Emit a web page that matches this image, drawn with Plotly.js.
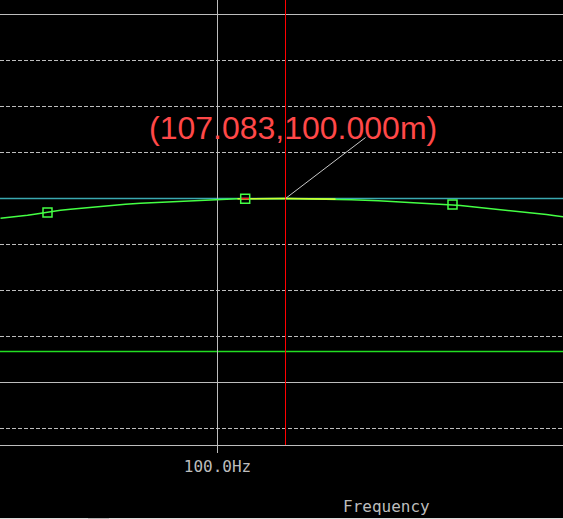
<!DOCTYPE html>
<html>
<head>
<meta charset="utf-8">
<script src="https://cdn.plot.ly/plotly-3.0.1.min.js"></script>
<style>html,body{margin:0;padding:0;background:#000000;}#chart{width:563px;height:519px;}</style>
</head>
<body>
<div id="chart"></div>
<script>
// Measured trace (frequency in Hz, magnitude in mV)
const freqHz = [77.397, 78.543, 79.376, 80.209, 80.938, 81.563, 82.293, 82.918, 83.647, 84.688, 85.730, 86.772, 87.917, 89.063, 90.417, 91.980, 93.542, 95.313, 97.396, 100.312, 102.083, 107.083, 112.291, 113.958, 116.770, 118.957, 120.832, 122.499, 123.645, 124.478, 125.311, 126.353, 127.499, 128.540, 129.686, 130.623, 131.561, 132.498, 133.332, 134.269, 134.998, 135.727, 136.040];
const magmV = [95.717, 95.935, 96.152, 96.370, 96.587, 96.804, 96.913, 97.196, 97.457, 97.674, 97.891, 98.109, 98.326, 98.543, 98.761, 98.978, 99.130, 99.348, 99.500, 99.717, 99.935, 100.000, 99.870, 99.717, 99.500, 99.283, 99.065, 98.848, 98.696, 98.609, 98.478, 98.261, 98.043, 97.826, 97.609, 97.391, 97.174, 96.957, 96.739, 96.522, 96.304, 96.087, 96.022];

// Highlighted band of the trace
const bandLo = 102.083;
const bandHi = 112.291;

// Markers
const markerFreq = [82.293, 102.885, 124.478];
const markerMag = [96.957, 99.95, 98.696];
const activeSegFreq = [102.396, 103.333];
const activeSegMag = [100.0, 100.0];

// Cursor readout
const cursorFreq = 107.083;
const cursorMag = 100.000;

// Grid / reference levels (mV)
const gridDashed = [130, 120, 110, 90, 80, 70, 50];
const gridSolid = [140, 60];
const refLevel = 100;
const limitLevel = 66.739;

// Axis ticks
const xTickVals = [100];
const xTickText = ['100.0Hz'];
const xRange = [77.345, 135.988];
const yRange = [46.413, 143.152];

const grey = '#bdbdbd';

const bandF = [], bandM = [];
freqHz.forEach((f, i) => { if (f >= bandLo && f <= bandHi) { bandF.push(f); bandM.push(magmV[i]); } });

const traces = [
  {x: freqHz, y: magmV, type: 'scatter', mode: 'lines', line: {color: '#44ff44', width: 1.5}, hoverinfo: 'none'},
  {x: bandF, y: bandM, type: 'scatter', mode: 'lines', line: {color: '#ccff33', width: 1.6}, hoverinfo: 'none'},
  {x: activeSegFreq, y: activeSegMag, type: 'scatter', mode: 'lines', line: {color: '#ff2020', width: 1.6}, hoverinfo: 'none'},
  {x: markerFreq, y: markerMag, type: 'scatter', mode: 'markers',
   marker: {symbol: 'square-open', size: 9, color: '#44ff44', line: {color: '#44ff44', width: 1.5}}, hoverinfo: 'none'}
];

const shapes = [];
gridSolid.forEach(v => shapes.push({type: 'line', xref: 'paper', yref: 'y', x0: 0, x1: 1, y0: v, y1: v, layer: 'below', line: {color: grey, width: 1}}));
shapes.push({type: 'line', xref: 'paper', yref: 'y', x0: 0, x1: 1, y0: refLevel, y1: refLevel, layer: 'below', line: {color: '#3aa8b0', width: 1.3}});
shapes.push({type: 'line', xref: 'paper', yref: 'y', x0: 0, x1: 1, y0: limitLevel, y1: limitLevel, layer: 'below', line: {color: '#22dd22', width: 1.3}});
shapes.push({type: 'line', xref: 'x', yref: 'paper', x0: cursorFreq, x1: cursorFreq, y0: 0, y1: 1, line: {color: '#ff0000', width: 1}});
shapes.push({type: 'line', xref: 'x', yref: 'y', xsizemode: 'pixel', ysizemode: 'pixel', xanchor: cursorFreq, yanchor: cursorMag,
             x0: 0, x1: 80, y0: 0, y1: 61, line: {color: '#c8c8c8', width: 1}});
shapes.push({type: 'rect', xref: 'paper', yref: 'paper', ysizemode: 'pixel', yanchor: 0, x0: 0, x1: 1, y0: -74, y1: -73, fillcolor: '#dcdcdc', line: {width: 0}});
shapes.push({type: 'rect', xref: 'paper', yref: 'paper', ysizemode: 'pixel', yanchor: 0, x0: 88/563, x1: 109/563, y0: -74, y1: -73, fillcolor: '#b8b8b8', line: {width: 0}});

const layout = {
  width: 563, height: 519, autosize: false,
  paper_bgcolor: '#000000', plot_bgcolor: '#000000',
  margin: {l: 0, r: 0, t: 0, b: 74, pad: 0},
  showlegend: false,
  xaxis: {
    range: xRange, tickvals: xTickVals, ticktext: xTickText,
    ticks: 'outside', ticklen: 7, tickcolor: grey, tickwidth: 1,
    tickfont: {family: 'DejaVu Sans Mono', size: 16, color: grey},
    showgrid: true, gridcolor: grey, gridwidth: 1,
    zeroline: false, showline: true, linecolor: grey, linewidth: 1
  },
  yaxis: {
    range: yRange, tickvals: gridDashed, showticklabels: false, ticks: '',
    showgrid: true, gridcolor: grey, gridwidth: 1, griddash: '4px,2px',
    zeroline: false, showline: false
  },
  shapes: shapes,
  annotations: [
    {x: cursorFreq, y: cursorMag, xref: 'x', yref: 'y', showarrow: false,
     text: '(' + cursorFreq.toFixed(3) + ',' + cursorMag.toFixed(3) + 'm)',
     xshift: 7, yshift: 71, xanchor: 'center', yanchor: 'middle',
     font: {family: 'Liberation Sans, Arial, sans-serif', size: 32, color: '#ff4848'}},
    {x: 386/563, y: 0, xref: 'paper', yref: 'paper', showarrow: false, text: 'Frequency',
     yshift: -61, xanchor: 'center', yanchor: 'middle',
     font: {family: 'DejaVu Sans Mono', size: 16, color: grey}}
  ]
};

Plotly.newPlot('chart', traces, layout, {displayModeBar: false, staticPlot: true});
</script>
</body>
</html>
